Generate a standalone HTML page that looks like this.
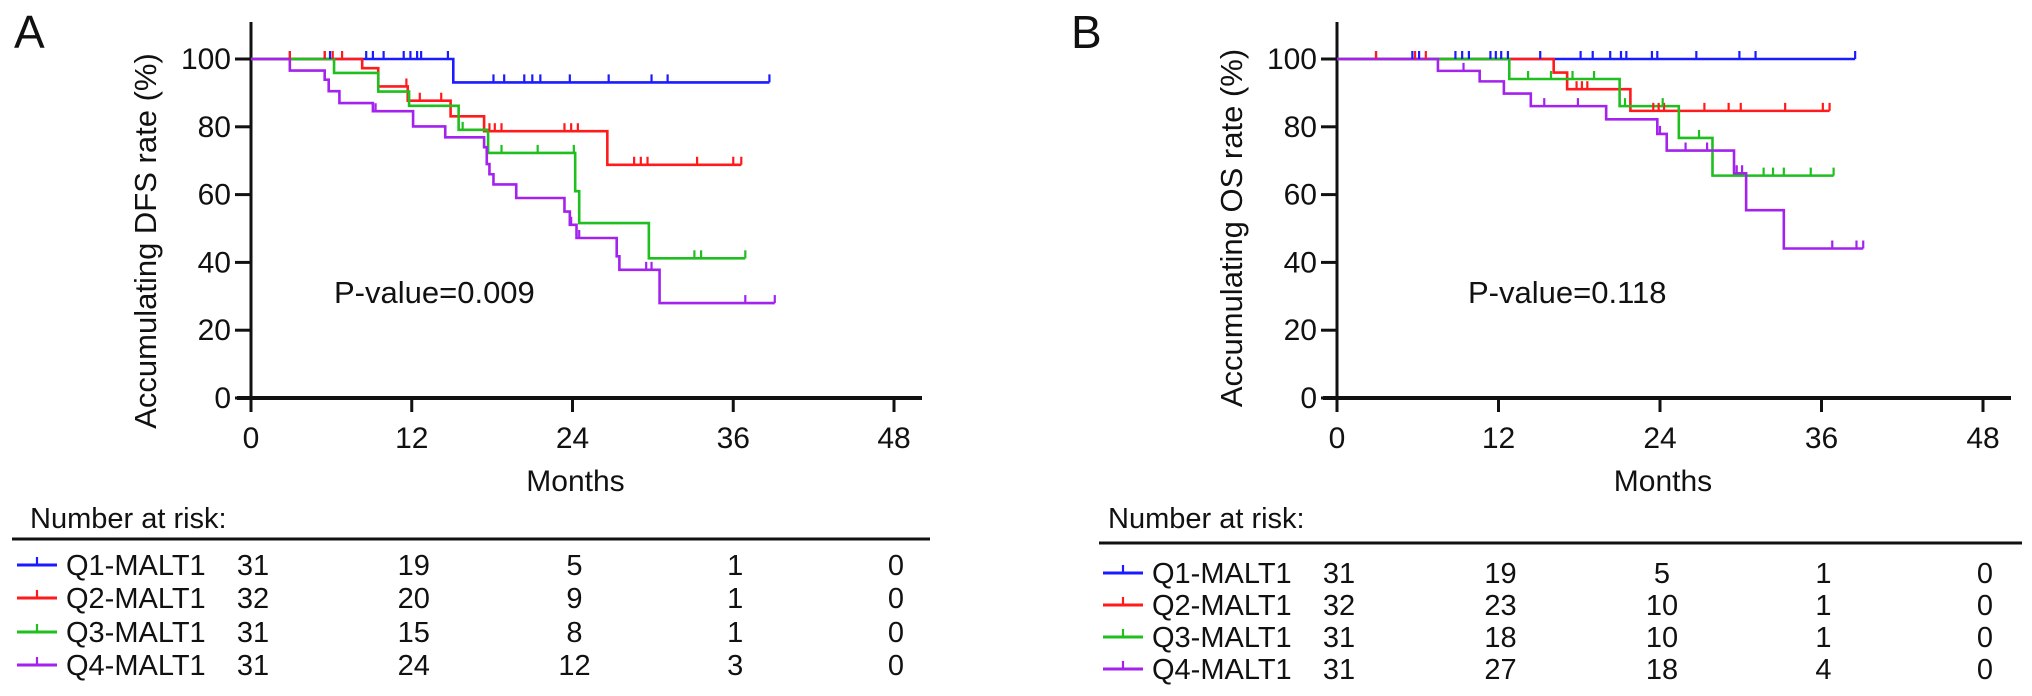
<!DOCTYPE html>
<html><head><meta charset="utf-8"><style>
html,body{margin:0;padding:0;background:#fff}
svg{display:block}
text{font-family:"Liberation Sans",Arial,sans-serif;fill:#111}
</style></head><body>
<svg id="c" width="2032" height="696" viewBox="0 0 2032 696"></svg>
<script>
const months = [0,12,24,36,48];
const yTicks = [0,20,40,60,80,100];
const groups = ["Q1-MALT1","Q2-MALT1","Q3-MALT1","Q4-MALT1"];
const colors = ["#1b1bff","#ff1b1b","#1fbf1f","#a322ee"];
// Panel A (DFS): step points [month, value]
const dfsQ1 = [[0,100],[15.1,93.1],[38.7,93.1]];
const dfsQ2 = [[0,100],[8.3,97.3],[9.5,91.9],[11.7,87.7],[14.9,83.1],[17.4,78.7],[26.6,68.8],[36.6,68.8]];
const dfsQ3 = [[0,100],[6.2,95.9],[9.5,90.4],[11.8,86.2],[15.5,79.1],[17.7,72.3],[24.2,61],[24.5,51.6],[29.7,41.2],[36.9,41.2]];
const dfsQ4 = [[0,100],[2.9,96.6],[5.5,93.9],[5.8,90.5],[6.6,87.0],[9.1,84.6],[12.1,80.1],[14.5,76.9],[17.4,74],[17.6,69],[17.8,66],[18.1,63],[19.8,59.0],[23.4,55],[23.8,51.1],[24.3,47.2],[27.3,41.8],[27.5,37.8],[30.5,28.0],[39.1,28.0]];
const dfsCensQ1 = [2.9,5.5,5.9,8.6,9.1,9.9,11.4,11.9,12.4,12.7,14.7,18.1,18.9,20.4,21.0,21.6,23.8,26.7,29.9,31.1,38.7];
const dfsCensQ2 = [2.9,5.5,6.1,6.8,11.6,12.6,14.2,17.8,18.2,18.7,23.4,23.9,24.4,28.6,29.1,29.6,33.3,36.0,36.6];
const dfsCensQ3 = [15.8,18.7,21.4,24.1,33.1,33.6,36.9];
const dfsCensQ4 = [9.3,23.9,24.5,29.5,29.9,36.9,39.1];
// Panel B (OS)
const osQ1 = [[0,100],[38.5,100]];
const osQ2 = [[0,100],[16.1,96.0],[17.1,91.1],[21.8,84.7],[36.6,84.7]];
const osQ3 = [[0,100],[12.8,94.1],[21.0,86.1],[25.4,76.7],[27.9,65.6],[36.9,65.6]];
const osQ4 = [[0,100],[7.5,96.5],[10.6,93.4],[12.4,89.8],[14.4,86.1],[20.0,82.2],[23.8,77.9],[24.5,73.0],[29.5,66.3],[30.4,55.4],[33.2,44.1],[39.1,44.1]];
const osCensQ1 = [2.9,5.6,6.1,8.8,9.3,9.8,11.4,11.8,12.2,12.7,15.1,18.1,19.0,20.3,21.1,21.5,23.4,23.8,26.7,29.9,31.1,38.5];
const osCensQ2 = [2.9,5.8,6.6,17.8,18.2,18.6,23.5,23.9,24.3,27.3,29.1,30.0,33.3,36.1,36.6];
const osCensQ3 = [14.2,15.9,17.5,19.1,21.4,24.2,26.9,31.7,32.4,33.2,35.2,36.9];
const osCensQ4 = [9.4,15.4,17.9,24.0,25.9,27.5,29.7,30.1,36.8,38.6,39.1];
const riskA = [[31,19,5,1,0],[32,20,9,1,0],[31,15,8,1,0],[31,24,12,3,0]];
const riskB = [[31,19,5,1,0],[32,23,10,1,0],[31,18,10,1,0],[31,27,18,4,0]];

const NS="http://www.w3.org/2000/svg";
const svg=document.getElementById('c');
function mk(tag,attrs,parent,txt){const e=document.createElementNS(NS,tag);for(const k in attrs)e.setAttribute(k,attrs[k]);if(txt!==undefined)e.textContent=txt;(parent||svg).appendChild(e);return e;}

function panel(cfg){
  const g=mk('g',{});
  
  
  const x0=cfg.x0, x1=cfg.x1, yTop=59, yBot=398;
  const xs=m=>x0+(x1-x0)*m/48;
  const ys=v=>yBot-(yBot-yTop)*v/100;
  const lab=mk('text',{x:cfg.letterX,y:48,'font-size':46},g,cfg.letter);
  
  
  // axes
  const ya=mk('line',{x1:x0,y1:22,x2:x0,y2:yBot,stroke:'#111','stroke-width':3},g);
  
  
  const xa=mk('line',{x1:x0-14,y1:yBot,x2:cfg.xEnd,y2:yBot,stroke:'#111','stroke-width':4},g);
  
  
  yTicks.forEach(v=>{
    mk('line',{x1:x0-16,y1:ys(v),x2:x0,y2:ys(v),stroke:'#111','stroke-width':3},g);
    const t=mk('text',{x:x0-20,y:ys(v)+10,'font-size':30,'text-anchor':'end'},g,String(v));
    
    
  });
  months.forEach(m=>{
    mk('line',{x1:xs(m),y1:yBot,x2:xs(m),y2:yBot+14,stroke:'#111','stroke-width':3},g);
    const t=mk('text',{x:xs(m),y:448,'font-size':30,'text-anchor':'middle'},g,String(m));
    
    
  });
  const yt=mk('text',{x:0,y:0,'font-size':31,'text-anchor':'middle',transform:`translate(${cfg.titleX},${cfg.titleY}) rotate(-90)`},g,cfg.ytitle);
  
  
  const xt=mk('text',{x:(x0+x1)/2+3,y:491,'font-size':30,'text-anchor':'middle'},g,'Months');
  
  
  const pv=mk('text',{x:cfg.pX,y:303,'font-size':31},g,cfg.pval);
  
  
  // curves
  cfg.series.forEach((s,i)=>{
    let d=`M${xs(s[0][0])},${ys(s[0][1])}`;
    for(let k=1;k<s.length;k++){d+=` H${xs(s[k][0])} V${ys(s[k][1])}`;}
    const p=mk('path',{d:d,fill:'none',stroke:colors[i],'stroke-width':2.6},g);
    
    
  });
  cfg.cens.forEach((c,i)=>{
    const s=cfg.series[i];
    c.forEach(m=>{
      let v=s[0][1];
      for(const pt of s){if(pt[0]<=m)v=pt[1];}
      const t=mk('line',{x1:xs(m),y1:ys(v),x2:xs(m),y2:ys(v)-8,stroke:colors[i],'stroke-width':2.2},g);
      
      
    });
  });
  // risk table
  const nr=mk('text',{x:cfg.nrX,y:528,'font-size':29},g,'Number at risk:');
  
  
  const rl=mk('line',{x1:cfg.lineX0,y1:cfg.lineY,x2:cfg.lineX1,y2:cfg.lineY,stroke:'#111','stroke-width':3},g);
  
  
  cfg.risk.forEach((row,i)=>{
    const cy=cfg.rowY[i];
    const lg=mk('g',{},g);
    
    
    mk('line',{x1:cfg.legX,y1:cy,x2:cfg.legX+40,y2:cy,stroke:colors[i],'stroke-width':3},lg);
    mk('line',{x1:cfg.legX+20,y1:cy,x2:cfg.legX+20,y2:cy-8,stroke:colors[i],'stroke-width':2.2},lg);
    mk('text',{x:cfg.legX+49,y:cy+10,'font-size':29},lg,groups[i]);
    row.forEach((n,j)=>{
      const t=mk('text',{x:xs(months[j])+2,y:cy+10,'font-size':29,'text-anchor':'middle'},g,String(n));
      
      
    });
  });
}
panel({name:'panel-a-dfs',letter:'A',letterX:14,x0:251,x1:894,xEnd:922,titleX:156,titleY:241,ytitle:'Accumulating DFS rate (%)',pX:334,pval:'P-value=0.009',
  series:[dfsQ1,dfsQ2,dfsQ3,dfsQ4],cens:[dfsCensQ1,dfsCensQ2,dfsCensQ3,dfsCensQ4],risk:riskA,
  nrX:30,lineX0:12,lineY:539,lineX1:930,rowY:[565,598,632,665],legX:17});
panel({name:'panel-b-os',letter:'B',letterX:1071,x0:1337,x1:1983,xEnd:2011,titleX:1242,titleY:228,ytitle:'Accumulating OS rate (%)',pX:1468,pval:'P-value=0.118',
  series:[osQ1,osQ2,osQ3,osQ4],cens:[osCensQ1,osCensQ2,osCensQ3,osCensQ4],risk:riskB,
  nrX:1108,lineX0:1099,lineY:543,lineX1:2022,rowY:[573,605,637,669],legX:1103});
</script>
</body></html>
